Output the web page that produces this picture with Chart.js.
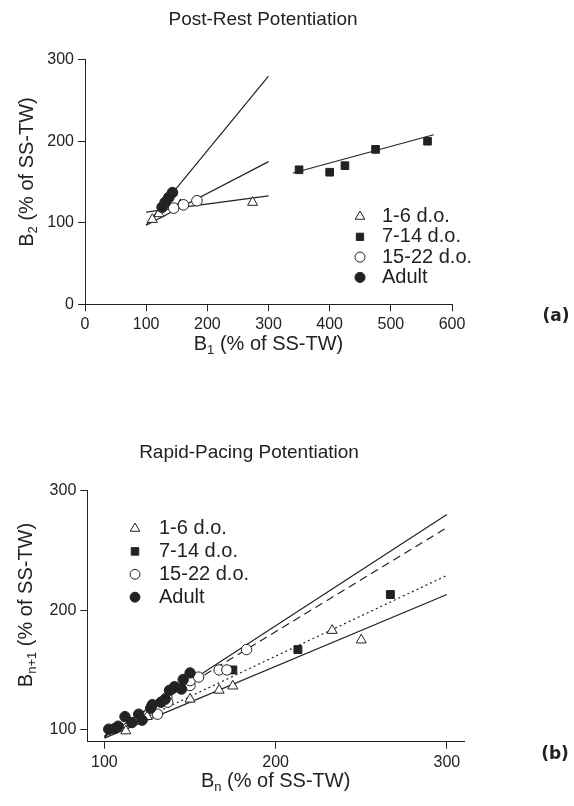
<!DOCTYPE html>
<html>
<head>
<meta charset="utf-8">
<script src="https://cdn.jsdelivr.net/npm/chart.js@4.4.1/dist/chart.umd.min.js"></script>
<style>
  body { margin: 0; background: #fff; }
  canvas { position: absolute; left: 0; }
  #chartA { top: 0; }
  #chartB { top: 390px; }
</style>
</head>
<body>
<canvas id="chartA" width="574" height="390"></canvas>
<canvas id="chartB" width="574" height="416"></canvas>
<script>
// group names
const groups = ['1-6 d.o.', '7-14 d.o.', '15-22 d.o.', 'Adult'];

// (a) Post-Rest Potentiation, B2 against B1
const aTriX  = [110, 121, 156, 274];
const aTriY  = [104, 111, 122, 125];
const aSqX   = [350, 400, 425, 475, 560];
const aSqY   = [165, 162, 170, 190, 200];
const aOpenX = [145, 161, 183];
const aOpenY = [118, 122, 127];
const aFillX = [126, 131, 137, 143];
const aFillY = [119, 125, 131, 137];
// regression lines, [x0, x1] and [y0, y1]
const aFitTriX = [100, 300], aFitTriY = [113, 133];
const aFitOpenX = [100, 300], aFitOpenY = [97, 175];
const aFitFillX = [100, 300], aFitFillY = [97, 280];
const aFitSqX = [340, 570], aFitSqY = [161, 208];
const aTicksX = [0, 100, 200, 300, 400, 500, 600];
const aTicksY = [0, 100, 200, 300];

// (b) Rapid-Pacing Potentiation, Bn+1 against Bn
const bTriX  = [112.5, 125, 150, 167, 175, 233, 250];
const bTriY  = [99, 111, 125.5, 133, 136.5, 183, 175];
const bSqX   = [175, 213, 267];
const bSqY   = [150, 167, 213];
const bOpenX = [131, 136.5, 137, 150, 150, 155, 167, 171.5, 183];
const bOpenY = [113, 127, 123, 137, 141, 144, 150, 150, 167];
const bFillX = [102.5, 106, 108, 112, 116, 120, 122, 127, 128, 133, 135.5, 138, 141, 145, 146, 150];
const bFillY = [100.5, 101, 103, 111, 106, 113, 108, 118, 121, 123, 125.5, 133, 136, 134, 142, 147.5];
const bFitUpX = [100, 300], bFitUpY = [94, 280];
const bFitDashX = [100, 300], bFitDashY = [95, 269];
const bFitDotX = [100, 300], bFitDotY = [94, 229];
const bFitLowX = [100, 300], bFitLowY = [93, 213];
const bTicksX = [100, 200, 300];
const bTicksY = [100, 200, 300];

const INK = '#222';
const FONT = '"Liberation Sans", Arial, sans-serif';
Chart.defaults.font.family = FONT;
Chart.defaults.color = INK;

function pts(xs, ys) { return xs.map((x, i) => ({ x: x, y: ys[i] })); }

function markers(label, xs, ys, style, filled, r, order) {
  return {
    label: label, data: pts(xs, ys), pointStyle: style, pointRadius: r,
    backgroundColor: filled ? INK : '#fff', borderColor: INK, borderWidth: 1, order: order
  };
}
function fit(xs, ys, dash) {
  return {
    data: pts(xs, ys), showLine: true, pointRadius: 0, borderColor: INK,
    borderWidth: 1.2, borderDash: dash || [], order: 10, fitLine: true
  };
}

// draws text with a subscript part, centred at x,y
function drawRich(ctx, parts, x, y, rot) {
  const big = '20px ' + FONT, small = '13px ' + FONT;
  let total = 0;
  parts.forEach(p => { ctx.font = p[1] ? small : big; total += ctx.measureText(p[0]).width; });
  ctx.save();
  ctx.translate(x, y);
  ctx.rotate(rot);
  ctx.textAlign = 'left';
  ctx.textBaseline = 'middle';
  let cx = -total / 2;
  parts.forEach(p => {
    ctx.font = p[1] ? small : big;
    ctx.fillText(p[0], cx, p[1] ? 6 : 0);
    cx += ctx.measureText(p[0]).width;
  });
  ctx.restore();
}

const decor = {
  id: 'decor',
  afterDraw(chart, args, o) {
    const ctx = chart.ctx, ca = chart.chartArea;
    ctx.save();
    ctx.fillStyle = INK;
    ctx.textBaseline = 'middle';
    ctx.textAlign = 'center';
    ctx.font = '19px ' + FONT;
    ctx.fillText(o.title, o.titleX, o.titleY);
    ctx.font = 'bold 17px "DejaVu Sans", sans-serif';
    ctx.fillText(o.panel, o.panelX, o.panelY);
    drawRich(ctx, o.xTitle, (ca.left + ca.right) / 2, o.xTitleY, 0);
    drawRich(ctx, o.yTitle, o.yTitleX, o.yTitleY, -Math.PI / 2);

    // legend, one row per marker dataset
    let i = 0;
    ctx.textAlign = 'left';
    ctx.font = '20px ' + FONT;
    chart.data.datasets.forEach(d => {
      if (d.fitLine) return;
      const y = o.legendY + i * o.legendGap;
      ctx.fillStyle = d.backgroundColor;
      ctx.strokeStyle = d.borderColor;
      ctx.lineWidth = 1;
      Chart.helpers.drawPoint(ctx, { pointStyle: d.pointStyle, radius: d.pointRadius * 0.95, rotation: 0, borderWidth: 1 }, o.legendX, y);
      ctx.fillStyle = INK;
      ctx.fillText(d.label, o.legendTextX, y);
      i++;
    });
    ctx.restore();
  }
};

function axis(min, max, tickVals, fitSize, isX) {
  return {
    type: 'linear', min: min, max: max,
    afterBuildTicks: s => { s.ticks = tickVals.map(v => ({ value: v })); },
    afterFit: s => { if (isX) s.height = fitSize; else s.width = fitSize; },
    grid: { drawOnChartArea: false, drawTicks: true, tickLength: 7, color: INK, lineWidth: 1 },
    border: { display: true, color: INK, width: 1 },
    ticks: { font: { size: 16 }, color: INK, padding: 4, maxRotation: 0 }
  };
}

function baseOptions(xScale, yScale, pad, decorOpts) {
  return {
    responsive: false,
    animation: false,
    layout: { padding: pad },
    scales: { x: xScale, y: yScale },
    plugins: { legend: { display: false }, tooltip: { enabled: false }, decor: decorOpts }
  };
}

new Chart(document.getElementById('chartA'), {
  type: 'scatter',
  data: {
    datasets: [
      markers(groups[0], aTriX, aTriY, 'triangle', false, 5.8, 3),
      markers(groups[1], aSqX, aSqY, 'rect', true, 5.4, 4),
      markers(groups[2], aOpenX, aOpenY, 'circle', false, 5.3, 2),
      markers(groups[3], aFillX, aFillY, 'circle', true, 5.3, 1),
      fit(aFitTriX, aFitTriY),
      fit(aFitOpenX, aFitOpenY),
      fit(aFitFillX, aFitFillY),
      fit(aFitSqX, aFitSqY)
    ]
  },
  options: baseOptions(
    axis(0, 600, aTicksX, 85.7, true),
    axis(0, 300, aTicksY, 85, false),
    { left: 0, top: 59.7, right: 122, bottom: 0 },
    {
      title: 'Post-Rest Potentiation', titleX: 263, titleY: 20,
      panel: '(a)', panelX: 556, panelY: 317,
      xTitle: [['B'], ['1', true], [' (% of SS-TW)']], xTitleY: 344,
      yTitle: [['B'], ['2', true], [' (% of SS-TW)']], yTitleX: 27, yTitleY: 172,
      legendX: 360, legendTextX: 382, legendY: 216.5, legendGap: 20.3
    }
  ),
  plugins: [decor]
});

new Chart(document.getElementById('chartB'), {
  type: 'scatter',
  data: {
    datasets: [
      markers(groups[0], bTriX, bTriY, 'triangle', false, 5.8, 3),
      markers(groups[1], bSqX, bSqY, 'rect', true, 5.6, 4),
      markers(groups[2], bOpenX, bOpenY, 'circle', false, 5.2, 2),
      markers(groups[3], bFillX, bFillY, 'circle', true, 5.2, 1),
      fit(bFitUpX, bFitUpY),
      fit(bFitDashX, bFitDashY, [8, 5]),
      fit(bFitDotX, bFitDotY, [2, 3]),
      fit(bFitLowX, bFitLowY)
    ]
  },
  options: baseOptions(
    axis(90, 310, bTicksX, 64.3, true),
    axis(90, 300, bTicksY, 87.3, false),
    { left: 0, top: 100.5, right: 110, bottom: 0 },
    {
      title: 'Rapid-Pacing Potentiation', titleX: 249, titleY: 63,
      panel: '(b)', panelX: 555, panelY: 365,
      xTitle: [['B'], ['n', true], [' (% of SS-TW)']], xTitleY: 391,
      yTitle: [['B'], ['n+1', true], [' (% of SS-TW)']], yTitleX: 26, yTitleY: 215,
      legendX: 135, legendTextX: 159, legendY: 138.5, legendGap: 22.9
    }
  ),
  plugins: [decor]
});
</script>
</body>
</html>
